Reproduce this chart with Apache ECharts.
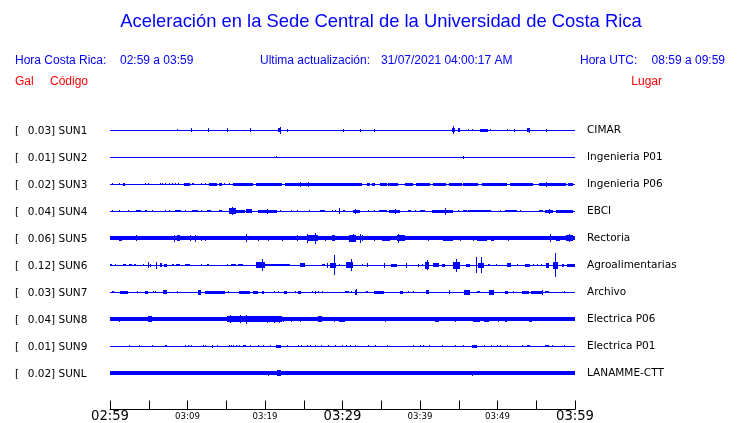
<!DOCTYPE html>
<html><head><meta charset="utf-8">
<script src="https://cdn.jsdelivr.net/npm/echarts/dist/echarts.min.js"></script>
<style>html,body{margin:0;padding:0;background:#fff}#c{width:740px;height:423px}</style>
</head><body><div id="c"></div>
<script>
// ---- data ----
const codes = ['SUN1','SUN2','SUN3','SUN4','SUN5','SUN6','SUN7','SUN8','SUN9','SUNL'];
const gal = ['0.03','0.01','0.02','0.04','0.06','0.12','0.03','0.04','0.01','0.02'];
const places = ['CIMAR','Ingenieria P01','Ingenieria P06','EBCI','Rectoria','Agroalimentarias','Archivo','Electrica P06','Electrica P01','LANAMME-CTT'];
const tickLabels = ['02:59','03:09','03:19','03:29','03:39','03:49','03:59'];
// background noise half-amplitude per trace (27 units = one trace spacing)
const baseAmp = [0.5,0.5,0.5,0.5,1.6,0.5,0.5,1.7,0.5,1.8];
// bursts: [startMinute, endMinute, halfAmplitude]
const sun1 = [[8.7,8.7,1],[10.4,10.4,2],[12.7,12.7,2],[15.1,15.1,2],[18.0,18.0,2],[21.7,22.1,2],[21.9,21.9,3.5],[22.8,22.8,1.5],[30.0,30.0,1.5],[32.2,32.2,1.5],[34.0,34.0,1.5],[44.1,44.5,2],[44.3,44.3,4],[44.9,45.2,2],[46.2,46.2,1],[46.7,46.7,1],[47.7,48.8,1.5],[49.0,49.0,1],[51.2,51.2,1],[52.1,52.1,1.5],[53.8,54.1,2],[54.0,54.0,2.5],[56.3,56.3,1.5]];
const sun2 = [[21.4,21.4,1],[45.5,45.5,1.5]];
const sun3 = [[0.3,0.3,1],[1.1,1.1,1],[1.7,1.9,1.5],[4.5,4.5,1],[4.9,4.9,1],[6.5,6.5,1],[6.7,6.7,1],[7.1,7.1,1.2],[7.6,7.6,1.2],[8.0,8.0,1.2],[8.4,8.4,1.2],[8.8,8.8,1.2],[9.5,10.3,1.5],[10.6,10.9,1.2],[11.7,11.7,1],[12.2,12.2,1],[12.8,13.8,1.5],[14.0,14.4,1.5],[14.7,14.7,1],[15.4,15.4,1],[15.9,18.5,1.5],[18.9,22.2,1.5],[22.6,30.3,1.5],[24.5,24.5,2.5],[25.6,25.6,2.5],[29.7,32.5,1.5],[33.1,33.5,1.5],[33.8,34.2,1.5],[34.8,35.7,1.5],[35.9,37.2,1.5],[38.1,39.1,1.5],[39.5,41.3,1.5],[41.7,43.4,1.5],[43.7,45.4,1.5],[45.6,47.5,1.5],[48.0,51.2,1.5],[51.6,54.6,1.5],[55.3,58.9,1.5],[56.3,56.3,2.5],[59.1,59.7,1.5]];
const sun4 = [[0.3,0.3,1],[1.1,1.1,1],[2.3,2.3,1.2],[3.3,4.0,1.2],[4.5,4.5,1],[4.7,4.7,1],[5.4,5.4,1.2],[7.1,7.1,1],[7.6,7.6,1],[8.4,9.2,1.3],[9.7,9.7,1],[10.6,11.3,1.2],[11.7,11.7,1],[12.5,13.0,1.2],[14.0,14.4,1.3],[15.3,16.2,3],[15.7,15.7,4],[16.2,17.4,1.5],[17.6,18.3,2],[19.1,21.5,1.5],[20.3,20.3,2.5],[21.9,21.9,1.3],[23.4,23.4,1],[24.1,24.1,1],[25.7,25.7,1],[27.1,27.7,1.3],[28.6,28.6,1],[29.0,29.0,1],[29.6,29.6,3],[30.0,30.3,1.3],[31.3,32.2,1.5],[31.6,31.6,2.5],[33.3,33.3,1],[34.0,34.0,1],[34.7,35.7,1.3],[36.0,37.4,1.5],[36.8,36.8,2.5],[38.5,38.9,1.2],[39.4,39.4,1],[40.0,40.6,1.2],[41.5,44.3,1.5],[43.2,43.2,3.5],[44.9,44.9,1],[45.5,46.0,1.2],[46.2,49.2,1.3],[50.3,50.3,1],[51.0,52.5,1.3],[52.9,52.9,1],[55.4,55.9,1.2],[56.1,57.2,1.5],[56.6,56.6,2.5],[57.5,59.8,1.5]];
const sun5 = [[0.0,0.6,2],[1.1,1.5,2.5],[1.7,2.8,2],[3.0,3.9,2],[3.4,3.4,3],[4.0,4.9,2],[5.2,5.9,2],[6.2,7.9,1.8],[8.2,8.2,3.5],[8.6,9.0,3],[9.2,9.6,2],[10.3,10.3,3],[11.0,11.0,3.5],[11.8,11.8,2.5],[12.3,12.3,2.5],[13.3,13.9,2],[17.6,17.6,4],[19.1,19.1,2.5],[20.4,20.4,2.5],[22.2,22.2,2.5],[24.1,24.1,3],[25.4,26.9,3.2],[25.4,25.4,4.5],[26.5,26.5,5.5],[27.7,27.7,2.5],[28.6,29.0,3],[29.6,30.3,2],[30.8,31.8,3.5],[31.4,31.4,4],[32.3,32.3,4.5],[32.5,32.5,3],[34.0,34.0,2.5],[34.5,34.5,2],[35.1,36.1,2.5],[37.0,38.1,2.8],[37.1,37.1,4.5],[41.0,41.0,2.5],[43.0,44.3,2.5],[45.2,45.2,2.5],[46.9,46.9,2.5],[47.3,48.6,2.5],[49.2,49.6,2.5],[51.4,51.4,2.5],[56.8,56.8,4],[57.6,58.1,2.5],[58.9,59.8,3],[59.2,59.2,4]];
const sun6 = [[0.0,0.2,1.3],[0.6,0.7,1.3],[1.7,2.0,1.3],[2.5,2.9,1.3],[3.1,3.4,1.3],[4.2,4.2,1],[4.9,4.9,3],[5.1,5.1,1.5],[5.9,5.9,3.5],[6.5,6.7,2],[7.0,7.4,1.5],[8.0,8.3,1.3],[8.5,9.0,1.3],[9.7,10.3,1.3],[11.7,11.7,1],[12.5,12.8,1.3],[15.1,15.1,1],[15.6,16.2,1.3],[16.5,17.1,1.3],[18.8,20.0,3],[19.6,19.6,6],[20.0,22.6,1.3],[22.6,23.2,1.3],[24.5,25.1,2],[27.3,27.7,1.3],[28.0,28.0,2.5],[28.4,29.2,2.5],[28.9,28.9,10],[29.5,29.5,1.3],[30.5,31.4,3],[31.1,31.1,6],[32.5,32.5,1.3],[33.1,33.3,2],[35.3,35.3,2.5],[36.3,37.0,1.5],[38.2,38.2,2.5],[39.7,39.7,1.5],[40.2,40.2,1.3],[40.6,41.2,3.5],[40.9,40.9,5],[41.7,42.4,2],[42.8,43.2,1.5],[44.3,45.2,3.5],[44.7,44.7,6.5],[45.9,46.5,1.5],[47.2,47.2,8],[47.5,48.3,2.5],[47.9,47.9,8],[48.8,49.0,1.3],[49.8,49.8,1.3],[51.2,51.8,2],[52.5,52.5,1.3],[53.5,54.2,1.5],[54.6,54.6,1.3],[55.1,55.1,1.3],[55.6,55.6,1.3],[56.3,56.6,2.5],[57.2,57.8,3.5],[57.4,57.4,12],[58.3,58.6,1.5],[59.0,60.0,1.5]];
const sun7 = [[0.3,0.5,1],[1.3,2.3,1.5],[3.5,3.5,1],[4.5,4.9,1.5],[5.5,5.5,1.3],[5.8,5.8,1.3],[6.8,7.3,2],[8.7,8.7,1.3],[11.4,11.8,2.5],[12.3,14.8,1.5],[15.2,15.2,1],[16.6,18.1,1.5],[18.4,19.1,1.5],[19.6,19.9,1.5],[21.1,21.1,1],[21.7,21.7,1.3],[22.4,22.9,1.5],[23.9,23.9,1],[24.2,24.6,1.5],[26.0,26.0,1],[26.5,26.5,1.5],[26.9,26.9,1],[27.4,27.4,1],[30.3,30.8,1.3],[31.1,31.1,1.3],[31.6,31.9,2.5],[31.8,31.8,3],[33.0,33.3,1.3],[34.0,35.3,1.5],[37.4,37.8,1.5],[38.4,38.4,1],[39.1,39.1,1],[40.8,41.1,2],[43.7,43.9,2],[45.7,46.5,2.5],[47.3,47.7,1.3],[48.9,49.5,2.5],[51.0,51.4,1.5],[52.0,52.0,1],[53.1,54.0,1.5],[54.3,55.9,1.5],[55.7,55.7,2.5],[56.1,56.6,1.3],[58.6,58.6,1]];
const sun8 = [[1.2,1.2,2.5],[4.9,5.4,2.8],[6.5,6.5,2.2],[10.8,10.8,2.2],[15.1,19.6,3],[15.5,15.5,4],[16.8,16.8,4],[17.5,17.5,4.5],[19.6,22.2,2.8],[20.2,20.2,3.5],[21.1,21.1,3.5],[21.8,21.8,3.5],[22.3,22.3,2.5],[23.4,23.4,2.5],[24.5,24.5,2.5],[25.2,25.2,2.2],[26.9,27.3,2.8],[28.0,28.0,2.2],[28.9,28.9,2.5],[29.5,30.3,2.5],[35.5,35.5,2.5],[39.7,39.7,2.3],[41.2,41.2,2.3],[41.9,42.4,2.5],[44.5,44.5,2.5],[46.9,47.7,2.5],[48.3,48.9,2.5],[50.1,50.1,2.5],[51.0,51.2,2.5],[54.0,54.4,2.5],[56.1,56.1,2.3]];
const sun9 = [[2.4,2.4,1],[3.7,3.7,1],[5.4,5.4,1],[7.1,7.4,1],[9.7,9.7,1],[10.0,10.0,1],[10.5,10.5,1],[12.0,12.0,1],[12.3,12.3,1],[13.2,13.2,1.5],[13.8,13.8,1],[15.3,15.3,1.3],[15.6,15.6,1],[15.9,15.9,1],[16.3,16.3,1],[16.6,16.6,1],[17.1,17.6,1.3],[18.0,18.0,1],[19.1,19.1,1],[19.8,19.8,1],[20.6,20.6,1],[21.4,22.1,1.5],[22.8,22.8,1.3],[24.3,24.3,1.3],[24.6,24.6,1],[25.4,25.4,1],[25.8,25.8,1],[26.5,26.5,1],[27.2,27.2,1],[28.1,28.1,1],[29.0,29.0,1],[29.9,29.9,1],[30.5,30.5,1],[31.0,31.0,1],[31.6,31.6,1],[33.3,33.3,1],[34.2,34.2,1],[35.7,35.9,1],[39.1,39.1,1],[40.0,40.0,1],[40.4,40.4,1],[41.1,41.3,1.3],[42.8,42.8,1],[44.5,44.5,1],[45.5,45.5,1],[46.7,47.3,1.5],[48.2,48.2,1],[49.2,49.2,1],[49.9,49.9,1],[50.3,50.3,1],[51.2,51.2,1],[53.1,53.1,1],[53.8,54.2,1],[56.1,56.6,1],[57.0,57.0,1],[58.6,58.6,1]];
const sunl = [[11.7,11.7,2.2],[20.4,20.4,2.5],[21.5,22.1,2.6],[37.8,37.8,2.3],[46.7,46.7,2.5],[50.1,50.1,2.2],[51.2,51.2,2.3],[51.6,51.6,2.2],[53.1,53.1,2.3]];
const traces = [sun1,sun2,sun3,sun4,sun5,sun6,sun7,sun8,sun9,sunl];

// ---- build ----
const rows = [];
traces.forEach((bursts, i) => {
  rows.push([0, 60, i, baseAmp[i]]);
  bursts.forEach(b => rows.push([b[0], b[1], i, b[2]]));
});
const BLUE = '#0000ff';
const chart = echarts.init(document.getElementById('c'), null, {renderer: 'canvas'});
chart.setOption({
  animation: false,
  backgroundColor: '#ffffff',
  grid: {left: 110, right: 165, top: 116.5, height: 270},
  xAxis: {
    type: 'value', min: 0, max: 60, interval: 5, offset: 23,
    axisLine: {show: true, lineStyle: {color: '#000', width: 1}},
    axisTick: {show: true, inside: true, length: 9, lineStyle: {color: '#000', width: 1}},
    splitLine: {show: false},
    axisLabel: {
      margin: 7, verticalAlign: 'middle', showMinLabel: true, showMaxLabel: true,
      formatter: v => {
        if (v % 10 !== 0) return '';
        const s = tickLabels[v / 10];
        return (v % 30 === 0) ? '{b|' + s + '}' : '{s|' + s + '}';
      },
      rich: {
        b: {fontFamily: 'DejaVu Sans', fontSize: 13.2, color: '#000'},
        s: {fontFamily: 'DejaVu Sans', fontSize: 8.6, color: '#000'}
      }
    }
  },
  yAxis: [{
    type: 'category', inverse: true, data: codes, position: 'left',
    axisLine: {show: false}, axisTick: {show: false}, splitLine: {show: false},
    axisLabel: {
      align: 'left', margin: 95, interval: 0,
      formatter: (v, i) => '{br|[}{t|' + gal[i] + '] ' + v + '}',
      rich: {
        br: {fontFamily: 'DejaVu Sans', fontSize: 10.5, color: '#000', width: 12.7, padding: [2, 0, 0, 0]},
        t: {fontFamily: 'DejaVu Sans', fontSize: 10.5, color: '#000', padding: [2, 0, 0, 0]}
      }
    }
  }, {
    type: 'category', inverse: true, data: places, position: 'right',
    axisLine: {show: false}, axisTick: {show: false}, splitLine: {show: false},
    axisLabel: {align: 'left', margin: 12, interval: 0, fontFamily: 'DejaVu Sans', fontSize: 10.5, color: '#000', padding: [2, 0, 0, 0]}
  }],
  series: [{
    type: 'custom', xAxisIndex: 0, yAxisIndex: 0,
    encode: {x: [0, 1], y: 2},
    data: rows,
    renderItem: (params, api) => {
      const p0 = api.coord([api.value(0), api.value(2)]);
      const p1 = api.coord([api.value(1), api.value(2)]);
      const unit = api.size([0, 1])[1] / 27;
      const half = api.value(3) * unit;
      const y0 = Math.round(p0[1] - half);
      let y1 = Math.round(p0[1] + half);
      if (y1 <= y0) y1 = y0 + 1;
      const x0 = Math.round(p0[0]);
      const w = Math.max(1, Math.round(p1[0]) - x0);
      return {type: 'rect', shape: {x: x0, y: y0, width: w, height: y1 - y0}, style: {fill: BLUE}};
    }
  }],
  graphic: [
    {type: 'text', x: 381, y: 22, style: {text: 'Aceleración en la Sede Central de la Universidad de Costa Rica', font: '18.4px "Liberation Sans"', fill: BLUE, align: 'center', verticalAlign: 'middle'}},
    {type: 'text', x: 15, y: 61, style: {text: 'Hora Costa Rica:', font: '12px "Liberation Sans"', fill: BLUE, verticalAlign: 'middle'}},
    {type: 'text', x: 120, y: 61, style: {text: '02:59 a 03:59', font: '12px "Liberation Sans"', fill: BLUE, verticalAlign: 'middle'}},
    {type: 'text', x: 260, y: 61, style: {text: 'Ultima actualización:', font: '12px "Liberation Sans"', fill: BLUE, verticalAlign: 'middle'}},
    {type: 'text', x: 381, y: 61, style: {text: '31/07/2021 04:00:17 AM', font: '12px "Liberation Sans"', fill: BLUE, verticalAlign: 'middle'}},
    {type: 'text', x: 580, y: 61, style: {text: 'Hora UTC:', font: '12px "Liberation Sans"', fill: BLUE, verticalAlign: 'middle'}},
    {type: 'text', x: 725, y: 61, style: {text: '08:59 a 09:59', font: '12px "Liberation Sans"', fill: BLUE, verticalAlign: 'middle', align: 'right'}},
    {type: 'text', x: 15, y: 82, style: {text: 'Gal', font: '12px "Liberation Sans"', fill: '#ff0000', verticalAlign: 'middle'}},
    {type: 'text', x: 50, y: 82, style: {text: 'Código', font: '12px "Liberation Sans"', fill: '#ff0000', verticalAlign: 'middle'}},
    {type: 'text', x: 662, y: 82, style: {text: 'Lugar', font: '12px "Liberation Sans"', fill: '#ff0000', verticalAlign: 'middle', align: 'right'}}
  ]
});
</script></body></html>
